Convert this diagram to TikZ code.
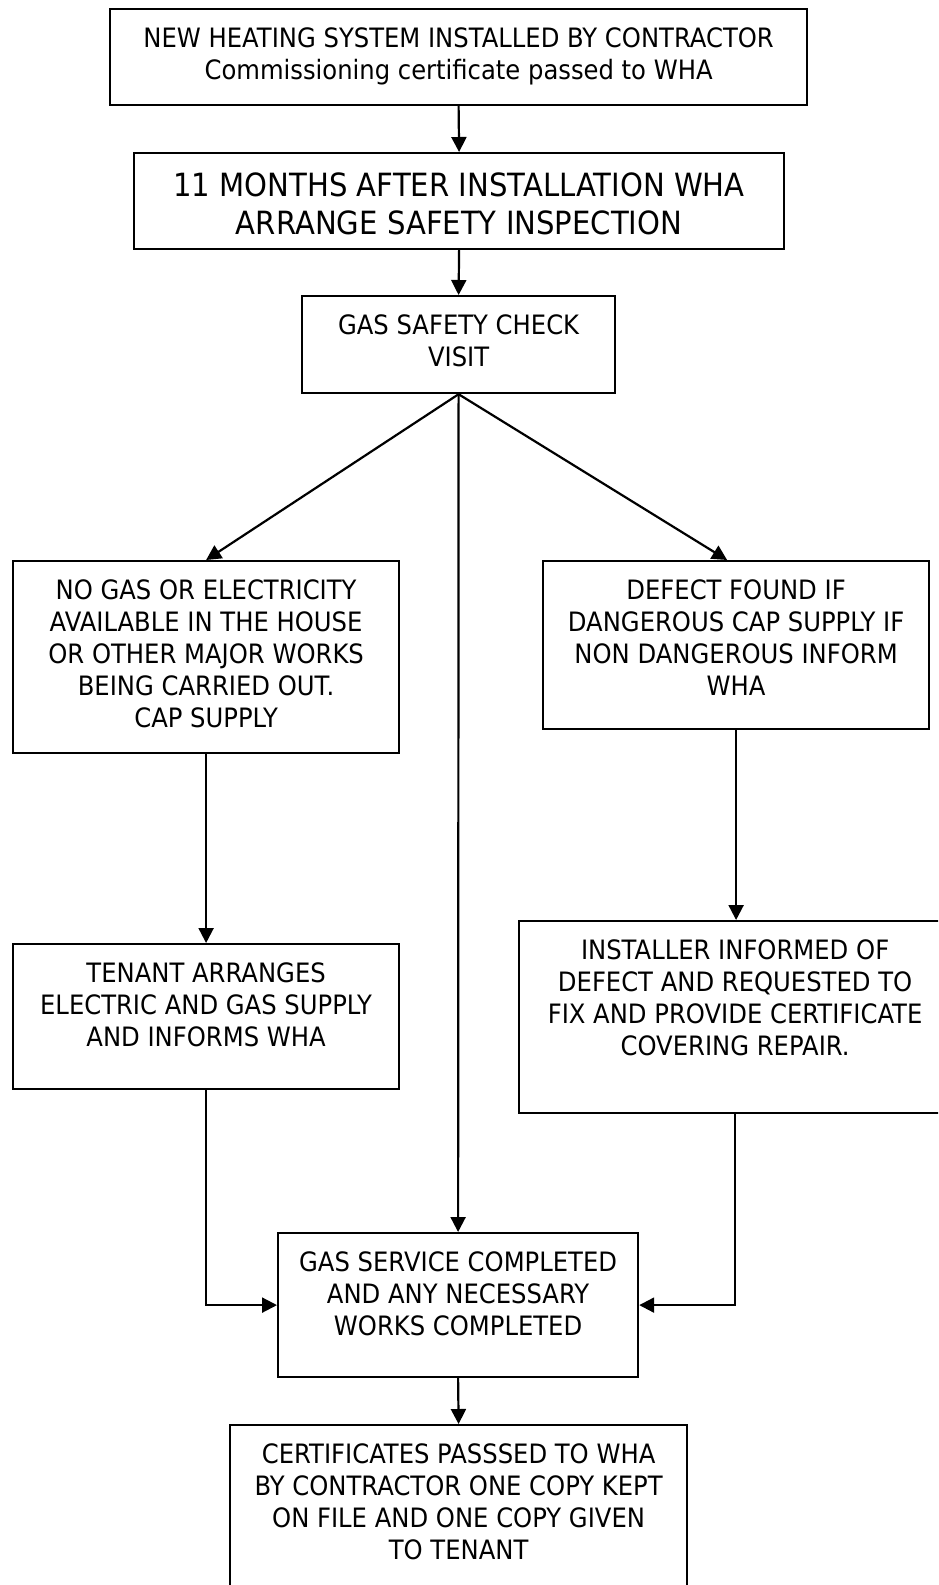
\documentclass[tikz,border=0pt]{standalone}
\usepackage{fontspec}
\setmainfont[FakeStretch=0.91]{DejaVu Sans}
\usetikzlibrary{arrows.meta}
\begin{document}
\begin{tikzpicture}[x=1pt,y=-1pt,
  box/.style={draw, line width=2.2pt, inner sep=0pt, anchor=north west},
  txt/.style={anchor=north, inner sep=0pt, align=center, font=\fontsize{26.67}{32}\selectfont},
  big/.style={font=\fontsize{32}{38}\selectfont},
  conn/.style={line width=2.2pt, -{Triangle[length=15pt,width=15pt]}}
]
\useasboundingbox (0,0) rectangle (938,1585);
\clip (0,0) rectangle (938,1585);
\fill[white] (0,0) rectangle (938,1585);

\node[box, minimum width=697pt, minimum height=96pt] (b1) at (109,8) {};
\node[box, minimum width=650pt, minimum height=96pt] (b2) at (133,152) {};
\node[box, minimum width=313pt, minimum height=97pt] (b3) at (301,295) {};
\node[box, minimum width=386pt, minimum height=192pt] (l1) at (12,560) {};
\node[box, minimum width=386pt, minimum height=168pt] (r1) at (542,560) {};
\node[box, minimum width=386pt, minimum height=145pt] (l2) at (12,943) {};
\node[box, minimum width=432pt, minimum height=192pt] (r2) at (518,920) {};
\node[box, minimum width=360pt, minimum height=144pt] (g) at (277,1232) {};
\node[box, minimum width=457pt, minimum height=200pt] (f) at (229,1424) {};

\node[txt] (b1t) at ([yshift=-20pt]b1.north) {NEW HEATING SYSTEM INSTALLED BY CONTRACTOR\\Commissioning certificate passed to WHA};
\node[txt, big] (b2t) at ([yshift=-21pt]b2.north) {11 MONTHS AFTER INSTALLATION WHA\\ARRANGE SAFETY INSPECTION};
\node[txt] (b3t) at ([yshift=-19pt]b3.north) {GAS SAFETY CHECK\\VISIT};
\node[txt] (l1t) at ([yshift=-19pt]l1.north) {NO GAS OR ELECTRICITY\\AVAILABLE IN THE HOUSE\\OR OTHER MAJOR WORKS\\BEING CARRIED OUT.\\CAP SUPPLY};
\node[txt] (r1t) at ([yshift=-19pt]r1.north) {DEFECT FOUND IF\\DANGEROUS CAP SUPPLY IF\\NON DANGEROUS INFORM\\WHA};
\node[txt] (l2t) at ([yshift=-19pt]l2.north) {TENANT ARRANGES\\ELECTRIC AND GAS SUPPLY\\AND INFORMS WHA};
\node[txt] (r2t) at ([yshift=-19pt]r2.north) {INSTALLER INFORMED OF\\DEFECT AND REQUESTED TO\\FIX AND PROVIDE CERTIFICATE\\COVERING REPAIR.};
\node[txt] (gt) at ([yshift=-19pt]g.north) {GAS SERVICE COMPLETED\\AND ANY NECESSARY\\WORKS COMPLETED};
\node[txt] (ft) at ([yshift=-19pt]f.north) {CERTIFICATES PASSSED TO WHA\\BY CONTRACTOR ONE COPY KEPT\\ON FILE AND ONE COPY GIVEN\\TO TENANT};

\draw[conn] (b1.south) -- (b2.north);
\draw[conn] (b2.south) -- (b3.north);
\draw[conn] (b3.south) -- (l1.north);
\draw[conn] (b3.south) -- ([xshift=-9pt]r1.north);
\draw[conn] (b3.south) -- (g.north);
\draw[conn] (l1.south) -- (l2.north);
\draw[conn] (r1.south) -- (r1.south |- r2.north);
\draw[conn] (l2.south) |- (g.west);
\draw[conn] (r2.south) |- (g.east);
\draw[conn] (g.south) -- (f.north);
\end{tikzpicture}
\end{document}
